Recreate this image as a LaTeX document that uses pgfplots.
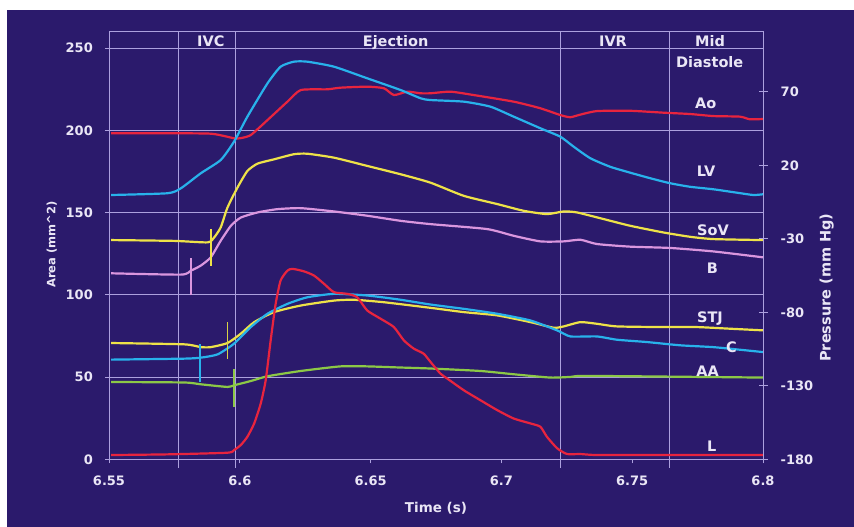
\documentclass[border=0pt]{standalone}
\usepackage{fontspec}
\setmainfont{DejaVu Sans}
\usepackage{pgfplots}
\pgfplotsset{compat=1.18}
\definecolor{bg}{RGB}{43,26,108}
\definecolor{gridc}{RGB}{172,160,222}
\definecolor{txt}{RGB}{234,230,246}
\definecolor{cred}{RGB}{232,36,62}
\definecolor{cblue}{RGB}{40,178,235}
\definecolor{cyel}{RGB}{238,226,72}
\definecolor{colive}{RGB}{215,210,70}
\definecolor{cpink}{RGB}{218,150,222}
\definecolor{cgreen}{RGB}{140,200,70}
\newcommand{\lbl}[1]{\bfseries\fontsize{#1}{#1}\selectfont}
\begin{document}
\begin{tikzpicture}
\useasboundingbox (0,0) rectangle (854pt,527pt);
\fill[white] (0,0) rectangle (854pt,527pt);
\fill[bg] (7pt,0) rectangle (854pt,517pt);

\begin{axis}[
  at={(109pt,67.7pt)}, anchor=south west,
  scale only axis, width=654pt, height=427.6pt,
  xmin=6.55, xmax=6.8, ymin=0, ymax=260,
  clip=false,
  axis line style={gridc, line width=0.8pt},
  xtick={6.55,6.6,6.65,6.7,6.75,6.8},
  xticklabels={6.55,6.6,6.65,6.7,6.75,6.8},
  ytick={0,50,100,150,200,250},
  xtick pos=lower, ytick pos=left,
  tick align=outside, major tick length=4pt,
  tick style={gridc, line width=0.8pt},
  ymajorgrids, grid style={gridc, line width=0.8pt},
  /pgf/number format/assume math mode=true,
  ticklabel style={font=\lbl{13}, text=txt, inner sep=0pt},
  yticklabel style={anchor=east, xshift=-12pt},
  xticklabel style={anchor=north, yshift=-12.5pt},
  every axis plot/.append style={line width=2.2pt, line join=round, mark=none},
  curve/.style={smooth, tension=0.35},
]
% phase boundaries
\draw[gridc, line width=0.8pt] (axis cs:6.5767,260) -- (axis cs:6.5767,-5.3);
\draw[gridc, line width=0.8pt] (axis cs:6.5985,260) -- (axis cs:6.5985,-5.3);
\draw[gridc, line width=0.8pt] (axis cs:6.7225,260) -- (axis cs:6.7225,-5.3);
\draw[gridc, line width=0.8pt] (axis cs:6.7641,260) -- (axis cs:6.7641,-5.3);

% SoV
\addplot[cyel, curve] coordinates {(6.5508,133.3) (6.575,132.8) (6.5877,131.9) (6.5902,134.9) (6.5927,141.0) (6.5953,153.1) (6.5991,165.2) (6.6029,175.3) (6.6068,179.8) (6.6131,182.4) (6.6207,185.5) (6.6258,185.8) (6.636,183.4) (6.6487,178.4) (6.6615,173.3) (6.6729,168.2) (6.6856,160.2) (6.6984,155.2) (6.7085,151.1) (6.7174,149.1) (6.7238,150.7) (6.7289,150.1) (6.739,146.1) (6.7492,142.0) (6.762,137.9) (6.7721,135.3) (6.781,133.9) (6.8,133.3)};
% B
\addplot[cpink, curve] coordinates {(6.5508,113.1) (6.5775,112.3) (6.5813,114.7) (6.5851,117.8) (6.5889,122.8) (6.5927,132.9) (6.5966,142.0) (6.6004,147.0) (6.6068,150.1) (6.6144,152.1) (6.6233,152.7) (6.636,150.7) (6.6487,148.1) (6.6615,145.0) (6.6729,143.0) (6.6945,140.0) (6.7047,135.9) (6.7149,132.5) (6.7238,132.5) (6.7302,133.5) (6.7365,130.9) (6.7492,129.3) (6.7645,128.5) (6.781,126.4) (6.8,122.8)};
% STJ
\addplot[cyel, curve] coordinates {(6.5508,70.7) (6.5787,69.9) (6.5851,68.2) (6.5889,68.2) (6.5953,70.7) (6.6004,76.4) (6.6055,83.4) (6.6131,89.5) (6.6233,93.5) (6.636,96.5) (6.6436,97.0) (6.6551,95.5) (6.6729,92.1) (6.6856,89.5) (6.6984,87.5) (6.7111,83.4) (6.72,80.0) (6.7238,80.8) (6.7302,83.4) (6.7365,82.4) (6.7442,80.8) (6.762,80.4) (6.7747,80.4) (6.7874,79.4) (6.8,78.4)};
% C
\addplot[cblue, curve] coordinates {(6.5508,60.6) (6.5787,61.2) (6.5851,61.8) (6.5915,63.8) (6.5978,70.3) (6.6042,80.4) (6.6106,88.5) (6.6182,94.5) (6.6258,98.5) (6.636,100.6) (6.6487,99.6) (6.6615,97.0) (6.6729,94.1) (6.6856,91.5) (6.6984,88.5) (6.7111,84.4) (6.7213,78.4) (6.7264,74.7) (6.7365,74.7) (6.7442,72.7) (6.7556,71.3) (6.7684,69.3) (6.781,68.2) (6.7938,66.2) (6.8,65.2)};
% AA
\addplot[cgreen, curve] coordinates {(6.5508,47.0) (6.5787,46.7) (6.5851,45.6) (6.5953,44.0) (6.5978,45.0) (6.6042,47.6) (6.6106,50.5) (6.6233,53.7) (6.6385,56.5) (6.6487,56.5) (6.6615,55.8) (6.6729,55.2) (6.692,53.7) (6.7047,51.7) (6.7187,49.7) (6.7264,50.1) (6.7302,50.7) (6.7492,50.5) (6.7747,50.1) (6.8,49.7)};
% L
\addplot[cred, curve] coordinates {(6.5508,2.6) (6.5724,3.0) (6.5953,4.0) (6.5978,5.6) (6.6004,8.7) (6.6029,13.7) (6.6055,21.8) (6.608,33.9) (6.6099,48.1) (6.6118,72.3) (6.6137,94.5) (6.6156,108.7) (6.6182,114.7) (6.6201,115.8) (6.6245,114.3) (6.6284,111.7) (6.6322,106.7) (6.636,101.6) (6.6411,100.6) (6.6449,98.5) (6.6487,90.5) (6.6538,85.5) (6.6589,80.4) (6.6627,72.3) (6.6665,67.3) (6.6703,64.2) (6.6729,59.2) (6.6767,52.1) (6.6793,49.1) (6.6856,42.0) (6.692,35.9) (6.6984,29.9) (6.7047,24.8) (6.7111,21.8) (6.7149,19.8) (6.7174,13.7) (6.7213,6.7) (6.7251,3.2) (6.7302,3.2) (6.7365,2.6) (6.762,2.6) (6.8,2.6)};
% onset markers
\addplot[cyel, line width=1.8pt] coordinates {(6.5889,117.8) (6.5889,140.2)};
\addplot[cpink, line width=1.8pt] coordinates {(6.5813,99.6) (6.5813,122.6)};
\addplot[colive, line width=1.8pt] coordinates {(6.5953,61.2) (6.5953,83.4)};
\addplot[cblue, line width=1.8pt] coordinates {(6.5848,47.0) (6.5848,70.3)};
\addplot[cgreen, line width=1.8pt] coordinates {(6.5978,31.9) (6.5978,55.2)};
\end{axis}

\begin{axis}[
  at={(109pt,67.7pt)}, anchor=south west,
  scale only axis, width=654pt, height=427.6pt,
  xmin=6.55, xmax=6.8, ymin=-180, ymax=110.9,
  axis x line=none, axis y line*=right,
  axis line style={gridc, line width=0.8pt},
  ytick={-180,-130,-80,-30,20,70},
  tick align=center, major tick length=9pt,
  tick style={gridc, line width=0.8pt},
  /pgf/number format/assume math mode=true,
  ticklabel style={font=\lbl{13}, text=txt, inner sep=0pt},
  yticklabel style={anchor=west, xshift=13pt},
  every axis plot/.append style={line width=2.2pt, line join=round, mark=none},
  curve/.style={smooth, tension=0.35},
]
% Ao
\addplot[cred, curve] coordinates {(6.5508,41.8) (6.570,41.8) (6.589,41.5) (6.5978,38.4) (6.6004,38.5) (6.6042,40.6) (6.6106,50.8) (6.6182,63.3) (6.6233,71.2) (6.6335,71.7) (6.6384,72.8) (6.6487,73.5) (6.6551,72.4) (6.6589,67.8) (6.664,70.1) (6.6691,69.0) (6.6729,69.0) (6.6805,70.1) (6.6894,67.8) (6.7047,63.3) (6.7149,58.8) (6.7225,54.2) (6.7263,52.7) (6.7302,54.5) (6.7365,56.9) (6.7492,57.1) (6.762,55.8) (6.7721,54.9) (6.781,53.5) (6.7912,53.1) (6.795,51.3) (6.8,51.5)};
% LV
\addplot[cblue, curve] coordinates {(6.5508,-0.2) (6.5724,1.0) (6.5775,4.4) (6.5851,14.6) (6.5927,23.6) (6.5978,36.1) (6.6029,53.1) (6.6106,75.8) (6.6156,87.1) (6.6207,90.5) (6.6258,90.5) (6.636,87.1) (6.6487,79.2) (6.6615,71.2) (6.6691,65.6) (6.6729,64.4) (6.6856,63.3) (6.6958,59.9) (6.7047,53.1) (6.7149,45.2) (6.7225,39.5) (6.7276,32.7) (6.734,24.8) (6.7416,19.0) (6.7492,15.0) (6.7569,11.2) (6.7645,7.8) (6.7721,5.4) (6.781,3.7) (6.7899,1.4) (6.7963,-0.2) (6.8,0.3)};
\end{axis}

\begin{scope}[every node/.style={inner sep=0pt, text=txt}]
\node[anchor=base, font=\lbl{14.5}] at (210.8pt,480.3pt) {IVC};
\node[anchor=base, font=\lbl{14.5}] at (395.6pt,480.3pt) {Ejection};
\node[anchor=base, font=\lbl{14.5}] at (613pt,480.3pt) {IVR};
\node[anchor=base, font=\lbl{14.5}] at (710pt,480.3pt) {Mid};
\node[anchor=base, font=\lbl{14.5}] at (709.7pt,459.3pt) {Diastole};
\node[anchor=base, font=\lbl{14.5}] at (705.8pt,418.7pt) {Ao};
\node[anchor=base, font=\lbl{14.5}] at (706pt,350.3pt) {LV};
\node[anchor=base, font=\lbl{14.5}] at (713pt,291pt) {SoV};
\node[anchor=base, font=\lbl{14.5}] at (712.5pt,253.7pt) {B};
\node[anchor=base, font=\lbl{14.5}] at (710pt,204.3pt) {STJ};
\node[anchor=base, font=\lbl{14.5}] at (731.5pt,174.3pt) {C};
\node[anchor=base, font=\lbl{14.5}] at (707.5pt,150.3pt) {AA};
\node[anchor=base, font=\lbl{14.5}] at (711.7pt,75.3pt) {L};
\node[rotate=90, font=\lbl{11.5}] at (51.7pt,282.5pt) {Area (mm\textasciicircum 2)};
\node[rotate=90, font=\lbl{14.5}] at (826.7pt,239.5pt) {Pressure (mm Hg)};
\node[font=\lbl{13.5}] at (436pt,18.5pt) {Time (s)};
\end{scope}
\end{tikzpicture}
\end{document}
